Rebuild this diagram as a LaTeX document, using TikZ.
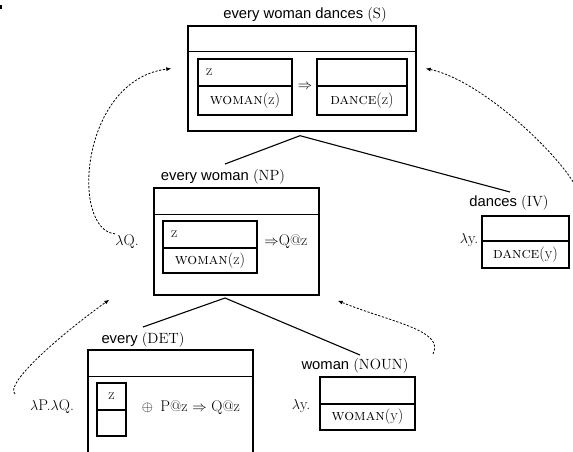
\documentclass[tikz,border=0pt]{standalone}
\usepackage{fontspec}
\newfontfamily\labelsans{Liberation Sans}
\usetikzlibrary{calc,arrows.meta}

\begin{document}
\begin{tikzpicture}[x=1pt,y=-1pt,
  frame/.style={draw, line width=1.4pt, inner sep=0pt},
  cell/.style={draw, line width=1.1pt, inner sep=0pt},
  cat/.style={font=\labelsans\fontsize{14.8}{17}\selectfont, inner sep=0pt},
  sem/.style={font=\fontsize{15.5}{18}\selectfont, inner sep=0pt},
  branch/.style={line width=1.1pt},
  link/.style={line width=0.8pt, dash pattern=on 2.2pt off 1.6pt,
    -{Latex[length=5pt,width=4pt]}}]

\useasboundingbox (0,0) rectangle (573,451);
\clip (0,0) rectangle (573,451);

% stray mark in the corner
\fill (0,5) rectangle (2,9);

% ---------- S: every woman dances ----------
\node[cat] (Slbl) at (305,15) {every woman dances {\rmfamily(S)}};
\node[frame, minimum width=228, minimum height=105] (S) at (302,78.5) {};
\draw[line width=1.4pt] ($(S.north west)+(0,26)$) -- ($(S.north east)+(0,26)$);
\node[cell, sem, minimum width=94, minimum height=27, text width=78, align=left]
  (SLtop) at (245,72.5) {z};
\node[cell, sem, minimum width=94, minimum height=29] (SLbot) at (245,100.5) {\textsc{woman}(z)};
\node[sem] (Simp) at (305,87) {$\Rightarrow$};
\node[cell, minimum width=90, minimum height=27] (SRtop) at (362,72.5) {};
\node[cell, sem, minimum width=90, minimum height=29] (SRbot) at (362,100.5) {\textsc{dance}(z)};

% ---------- NP: every woman ----------
\node[cat] (NPlbl) at (223,177) {every woman {\rmfamily(NP)}};
\node[frame, minimum width=165, minimum height=107] (NP) at (236.5,241.5) {};
\draw[line width=1.4pt] ($(NP.north west)+(0,27)$) -- ($(NP.north east)+(0,27)$);
\node[cell, sem, minimum width=94, minimum height=27, text width=78, align=left]
  (NPtop) at (210,234.5) {z};
\node[cell, sem, minimum width=94, minimum height=25] (NPbot) at (210,260.5) {\textsc{woman}(z)};
\node[sem] (NPrest) at (286,242) {$\Rightarrow$Q@z};
\node[sem] (lamQ) at (127,242) {$\lambda$Q.};

% ---------- IV: dances ----------
\node[cat] (IVlbl) at (509,203) {dances {\rmfamily(IV)}};
\node[frame, minimum width=87, minimum height=25] (IVtop) at (525.5,228.5) {};
\node[frame, sem, minimum width=87, minimum height=27] (IVbot) at (525.5,254.5) {\textsc{dance}(y)};
\node[sem] (lamIV) at (469,240) {$\lambda$y.};

% ---------- DET: every ----------
\node[cat] (DETlbl) at (143,340) {every {\rmfamily(DET)}};
\node[frame, minimum width=165, minimum height=130] (DET) at (170.5,415) {};
\draw[line width=1.4pt] ($(DET.north west)+(0,27)$) -- ($(DET.north east)+(0,27)$);
\node[cell, sem, minimum width=29, minimum height=27] (DETtop) at (111.5,396.5) {z};
\node[cell, minimum width=29, minimum height=26] (DETbot) at (111.5,423) {};
\node[sem] (DETrest) at (191,408) {$\oplus$\, P@z $\Rightarrow$ Q@z};
\node[sem] (lamPQ) at (52,407) {$\lambda$P.$\lambda$Q.};

% ---------- NOUN: woman ----------
\node[cat] (Nlbl) at (355,366) {woman {\rmfamily(NOUN)}};
\node[frame, minimum width=95, minimum height=27] (Ntop) at (367.5,390.5) {};
\node[frame, sem, minimum width=95, minimum height=26] (Nbot) at (367.5,417) {\textsc{woman}(y)};
\node[sem] (lamN) at (301,406) {$\lambda$y.};

% ---------- tree branches ----------
\coordinate (Sapex) at ($(S.south)+(-2,4)$);
\coordinate (NPend) at (225,164);
\coordinate (IVend) at (510,192);
\draw[branch] (NPend) -- (Sapex) -- (IVend);
\coordinate (NPapex) at (225,298);
\coordinate (DETend) at (143,327);
\coordinate (Nend) at (360,355);
\draw[branch] (DETend) -- (NPapex) -- (Nend);

% ---------- dashed links ----------
\coordinate (tipSL) at ($(S.west)+(-16,-10)$);
\coordinate (tipSR) at ($(S.east)+(9,-10)$);
\coordinate (tipNPL) at ($(NP.south west)+(-44,4)$);
\coordinate (tipNPR) at ($(NP.south east)+(18,5)$);
\coordinate (fromIV) at (575,185);
\coordinate (fromDET) at (15,394);
\coordinate (fromN) at (433,354);

\draw[link] ($(lamQ.north west)+(0,-1)$) .. controls (70,230) and (80,80) .. (tipSL);
\draw[link] (fromIV) .. controls (555,150) and (480,80) .. (tipSR);
\draw[link] (fromDET) .. controls (4,384) and (60,335) .. (tipNPL);
\draw[link] (fromN) .. controls (445,330) and (390,322) .. (tipNPR);
\end{tikzpicture}
\end{document}
